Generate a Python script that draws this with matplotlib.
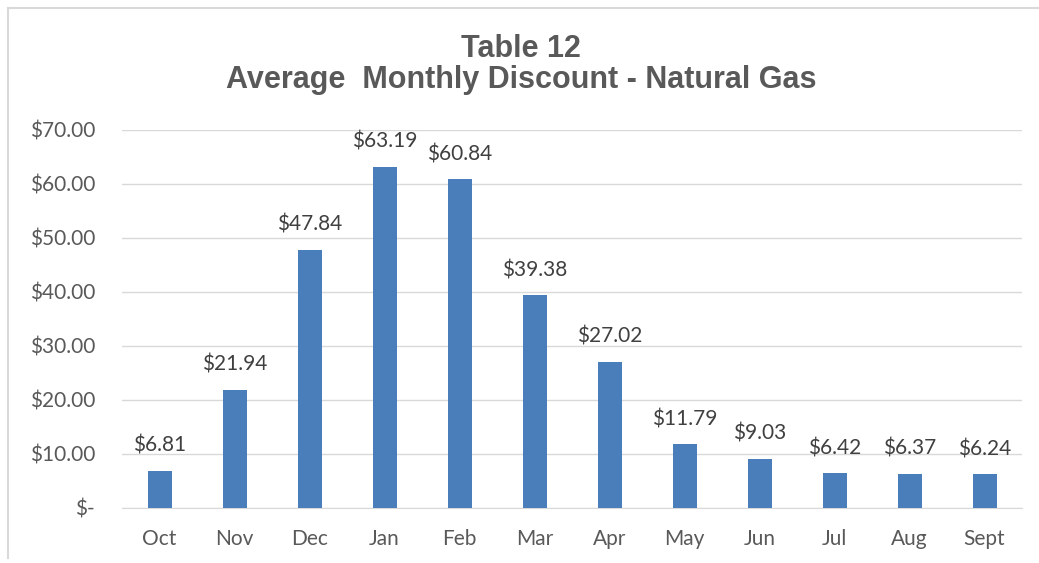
import matplotlib
matplotlib.use("Agg")
import matplotlib.pyplot as plt
from matplotlib.lines import Line2D

months = ["Oct", "Nov", "Dec", "Jan", "Feb", "Mar", "Apr", "May", "Jun", "Jul", "Aug", "Sept"]
discounts = [6.81, 21.94, 47.84, 63.19, 60.84, 39.38, 27.02, 11.79, 9.03, 6.42, 6.37, 6.24]
yticks = [0, 10, 20, 30, 40, 50, 60, 70]
ytick_labels = ["$-", "$10.00", "$20.00", "$30.00", "$40.00", "$50.00", "$60.00", "$70.00"]

W, H = 1039, 563
fig = plt.figure(figsize=(W / 100, H / 100), dpi=100)
fig.patch.set_facecolor("white")
# chart frame (left and top edges visible)
fig.add_artist(Line2D([7.5 / W, 7.5 / W], [1 - 7.5 / H, 1 - 558 / H], transform=fig.transFigure,
                      color="#d9d9d9", linewidth=1.5))
fig.add_artist(Line2D([7.5 / W, 1.0], [1 - 7.5 / H, 1 - 7.5 / H], transform=fig.transFigure,
                      color="#d9d9d9", linewidth=1.5))

ax = fig.add_axes([122 / W, (H - 508) / H, (1022 - 122) / W, (508 - 130) / H])
x = list(range(len(months)))
bars = ax.bar(x, discounts, width=0.32, color="#4a7ebb", zorder=3)
ax.set_xlim(-0.5, len(months) - 0.5)
ax.set_ylim(0, 70)
ax.set_yticks(yticks)
ax.set_yticklabels(ytick_labels)
ax.set_xticks(x)
ax.set_xticklabels(months)
ax.grid(axis="y", color="#d9d9d9", linewidth=1, zorder=0)
for s in ["top", "right", "left"]:
    ax.spines[s].set_visible(False)
ax.spines["bottom"].set_color("#d9d9d9")
ax.tick_params(axis="both", length=0, labelsize=15, labelcolor="#595959")
ax.tick_params(axis="y", pad=19.5)
ax.tick_params(axis="x", pad=15)
for lab in ax.get_xticklabels() + ax.get_yticklabels():
    lab.set_family(["Lato", "DejaVu Sans"])

for b, v in zip(bars, discounts):
    ax.annotate(f"${v:.2f}", (b.get_x() + b.get_width() / 2, v),
                xytext=(0, 11), textcoords="offset points", ha="center", va="bottom",
                fontsize=15, color="#404040", family=["Lato", "DejaVu Sans"])

fig.text(521 / W, 1 - 57 / H, "Table 12", ha="center", va="baseline",
         fontsize=22, fontweight="bold", color="#595959", family="Liberation Sans")
fig.text(521 / W, 1 - 88 / H, "Average  Monthly Discount - Natural Gas", ha="center", va="baseline",
         fontsize=22, fontweight="bold", color="#595959", family="Liberation Sans")

fig.savefig("out.png", dpi=100)
